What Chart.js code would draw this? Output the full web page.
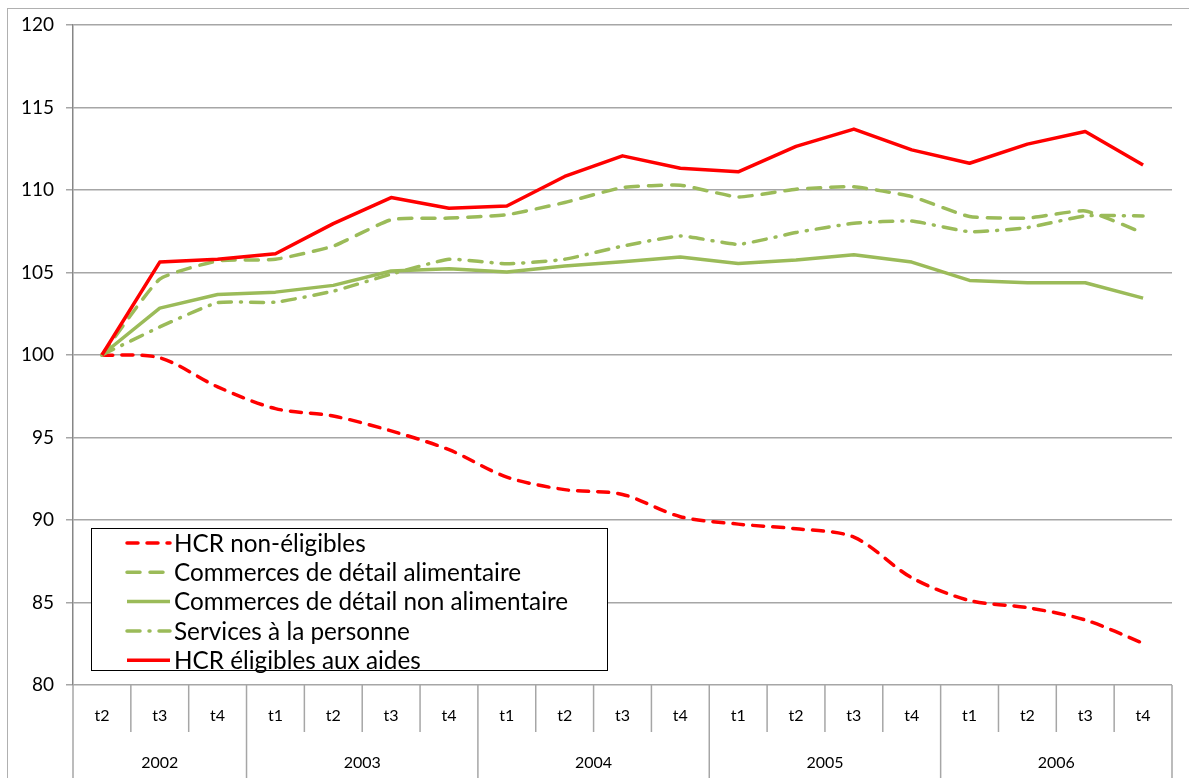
<!DOCTYPE html>
<html>
<head>
<meta charset="utf-8">
<script src="https://cdn.jsdelivr.net/npm/chart.js@4.4.1/dist/chart.umd.min.js"></script>
<style>
  html, body { margin: 0; padding: 0; background: #fff; }
  #wrap { width: 1189px; height: 778px; position: relative; }
</style>
</head>
<body>
<div id="wrap"><canvas id="chart" width="1189" height="778"></canvas></div>
<script>
// categories (two-level axis)
const quarters = ['t2','t3','t4','t1','t2','t3','t4','t1','t2','t3','t4','t1','t2','t3','t4','t1','t2','t3','t4'];
const years    = ['2002','2002','2002','2003','2003','2003','2003','2004','2004','2004','2004','2005','2005','2005','2005','2006','2006','2006','2006'];

// series (index 100 = t2 2002)
const hcrNonEligibles = [100, 99.83, 98.07, 96.75, 96.3, 95.4, 94.26, 92.6, 91.84, 91.55, 90.2, 89.75, 89.47, 88.96, 86.5, 85.12, 84.69, 83.94, 82.53];
const commAlim        = [100, 104.6, 105.7, 105.8, 106.6, 108.2, 108.3, 108.5, 109.24, 110.15, 110.29, 109.58, 110.05, 110.19, 109.6, 108.39, 108.3, 108.73, 107.4];
const commNonAlim     = [100, 102.84, 103.67, 103.81, 104.22, 105.09, 105.23, 105.03, 105.39, 105.65, 105.94, 105.55, 105.76, 106.08, 105.63, 104.52, 104.38, 104.38, 103.45];
const services        = [100, 101.7, 103.17, 103.2, 103.87, 104.9, 105.8, 105.53, 105.8, 106.6, 107.21, 106.71, 107.42, 107.98, 108.12, 107.47, 107.72, 108.43, 108.43];
const hcrEligibles    = [100, 105.63, 105.8, 106.14, 107.96, 109.54, 108.89, 109.03, 110.82, 112.07, 111.32, 111.1, 112.64, 113.69, 112.43, 111.62, 112.78, 113.55, 111.52];

const seriesNames = ['HCR non-éligibles', 'Commerces de détail alimentaire', 'Commerces de détail non alimentaire', 'Services à la personne', 'HCR éligibles aux aides'];

const RED = '#FF0000', GREEN = '#9BBB59', GRID = '#A6A6A6', AXIS = '#868686';
const FONT = 'Lato, "Open Sans", sans-serif';

// draws the outer frame, the two-level category axis and the boxed legend
const excelBits = {
  id: 'excelBits',
  beforeDraw(chart) {
    const ctx = chart.ctx;
    ctx.save();
    ctx.strokeStyle = '#B0B0B0';
    ctx.lineWidth = 1;
    ctx.strokeRect(7.5, 8.5, 1400, 1000);
    ctx.restore();
  },
  afterDraw(chart) {
    const ctx = chart.ctx;
    const xs = chart.scales.x;
    const area = chart.chartArea;
    const n = quarters.length;
    const step = (area.right - area.left) / n;
    ctx.save();
    ctx.strokeStyle = GRID;
    ctx.lineWidth = 1.5;
    // y axis continues down through the label rows
    ctx.beginPath();
    ctx.moveTo(area.left, area.bottom);
    ctx.lineTo(area.left, 778);
    ctx.stroke();
    for (let i = 1; i <= n; i++) {
      const x = i === n ? area.right : xs.getPixelForValue(i) - step / 2;
      const full = i === n || years[i] !== years[i - 1];
      ctx.beginPath();
      ctx.moveTo(x, area.bottom);
      ctx.lineTo(x, full ? 778 : 732);
      ctx.stroke();
    }
    ctx.fillStyle = '#000';
    ctx.font = '16px ' + FONT;
    ctx.textAlign = 'center';
    ctx.textBaseline = 'middle';
    quarters.forEach((q, i) => ctx.fillText(q, xs.getPixelForValue(i), 716));
    let start = 0;
    for (let i = 1; i <= n; i++) {
      if (i === n || years[i] !== years[start]) {
        const x = (xs.getPixelForValue(start) + xs.getPixelForValue(i - 1)) / 2;
        ctx.fillText(years[start], x, 763);
        start = i;
      }
    }

    // legend box
    ctx.fillStyle = '#fff';
    ctx.fillRect(91, 528, 516, 142);
    ctx.strokeStyle = '#000';
    ctx.lineWidth = 1;
    ctx.strokeRect(91.5, 528.5, 516, 142);
    const sets = chart.data.datasets;
    ctx.textAlign = 'left';
    ctx.font = '24.3px ' + FONT;
    seriesNames.forEach((name, i) => {
      const ds = sets[i];
      const y = 543 + i * 29.3;
      ctx.save();
      ctx.strokeStyle = ds.borderColor;
      ctx.lineWidth = ds.borderWidth;
      ctx.setLineDash(ds.borderDash || []);
      ctx.lineCap = ds.borderCapStyle || 'butt';
      ctx.beginPath();
      ctx.moveTo(127, y);
      ctx.lineTo(170, y);
      ctx.stroke();
      ctx.restore();
      ctx.fillStyle = '#000';
      ctx.fillText(name, 174, y + 1);
    });
    ctx.restore();
  }
};

const ctx = document.getElementById('chart').getContext('2d');
new Chart(ctx, {
  type: 'line',
  data: {
    labels: quarters,
    datasets: [
      { label: seriesNames[0], data: hcrNonEligibles, borderColor: RED, borderWidth: 3.5, borderDash: [11, 9], borderCapStyle: 'round', tension: 0.3, order: 5 },
      { label: seriesNames[1], data: commAlim, borderColor: GREEN, borderWidth: 3.5, borderDash: [13, 10], borderCapStyle: 'round', tension: 0.15, order: 4 },
      { label: seriesNames[2], data: commNonAlim, borderColor: GREEN, borderWidth: 3.5, order: 3 },
      { label: seriesNames[3], data: services, borderColor: GREEN, borderWidth: 3.5, borderDash: [13, 9, 1, 9], borderCapStyle: 'round', tension: 0.15, order: 2 },
      { label: seriesNames[4], data: hcrEligibles, borderColor: RED, borderWidth: 3.5, order: 1 }
    ]
  },
  options: {
    responsive: false,
    animation: false,
    events: [],
    layout: { padding: { top: 25, right: 17, left: 0, bottom: 0 } },
    elements: { point: { radius: 0 }, line: { borderJoinStyle: 'round' } },
    plugins: { legend: { display: false }, tooltip: { enabled: false } },
    scales: {
      x: {
        offset: true,
        grid: { display: false },
        border: { display: false },
        ticks: { display: false },
        afterFit(s) { s.height = 93; }
      },
      y: {
        min: 80,
        max: 120,
        ticks: { stepSize: 5, color: '#000', font: { family: FONT, size: 19 }, padding: 12 },
        grid: { color: GRID, lineWidth: 1.5, tickLength: 7 },
        border: { color: AXIS, width: 1.5 },
        afterFit(s) { s.width = 73; }
      }
    }
  },
  plugins: [excelBits]
});
</script>
</body>
</html>
